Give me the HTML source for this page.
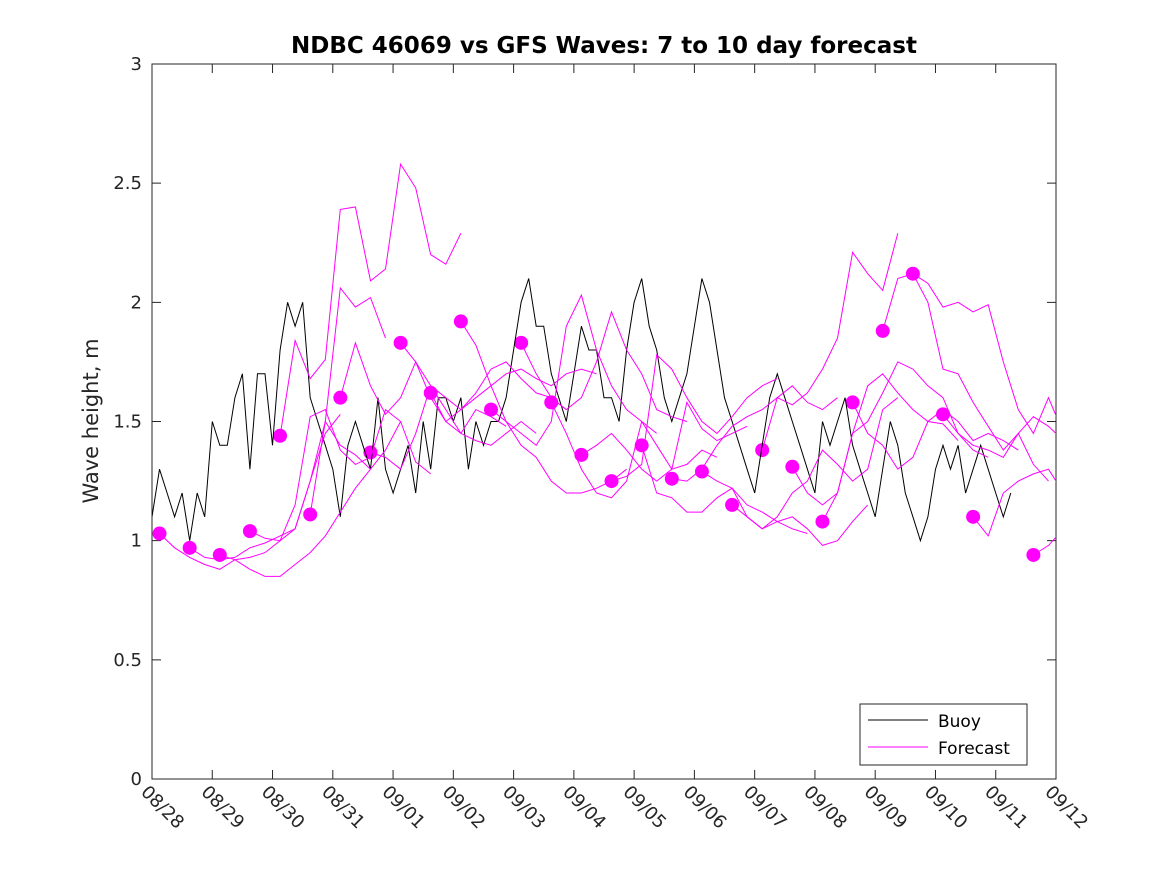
<!DOCTYPE html>
<html><head><meta charset="utf-8"><style>
body{margin:0;background:#fff;}
svg{display:block;font-family:"DejaVu Sans","Liberation Sans",sans-serif;}
</style></head><body>
<svg id="chart" width="1167" height="875" viewBox="0 0 1167 875" xmlns="http://www.w3.org/2000/svg">
<defs><clipPath id="clip"><rect x="152" y="64" width="904" height="715"/></clipPath></defs>
<rect width="1167" height="875" fill="#fff"/>
<text x="604" y="53" text-anchor="middle" font-size="23" font-weight="bold" fill="#000">NDBC 46069 vs GFS Waves: 7 to 10 day forecast</text>
<text transform="translate(98,421) rotate(-90)" text-anchor="middle" font-size="21" fill="#262626">Wave height, m</text>
<g id="plot"></g>
<g id="data" clip-path="url(#clip)"></g>
</svg>
<script>
const xTickLabels=["08/28","08/29","08/30","08/31","09/01","09/02","09/03","09/04","09/05","09/06","09/07","09/08","09/09","09/10","09/11","09/12"];
const yTicks=[0,0.5,1,1.5,2,2.5,3];
const buoyStep=0.125;
const buoyValues=[1.1,1.3,1.2,1.1,1.2,1.0,1.2,1.1,
1.5,1.4,1.4,1.6,1.7,1.3,1.7,1.7,
1.4,1.8,2.0,1.9,2.0,1.6,1.5,1.4,
1.3,1.1,1.4,1.5,1.4,1.3,1.6,1.3,
1.2,1.3,1.4,1.2,1.5,1.3,1.6,1.6,
1.5,1.6,1.3,1.5,1.4,1.5,1.5,1.6,
1.8,2.0,2.1,1.9,1.9,1.7,1.6,1.5,
1.7,1.9,1.8,1.8,1.6,1.6,1.5,1.8,
2.0,2.1,1.9,1.8,1.6,1.5,1.6,1.7,
1.9,2.1,2.0,1.8,1.6,1.5,1.4,1.3,
1.2,1.4,1.6,1.7,1.6,1.5,1.4,1.3,
1.2,1.5,1.4,1.5,1.6,1.4,1.3,1.2,
1.1,1.3,1.5,1.4,1.2,1.1,1.0,1.1,
1.3,1.4,1.3,1.4,1.2,1.3,1.4,1.3,
1.2,1.1,1.2];
const forecastStep=0.25;
const forecastStarts=[0.125,0.625,1.125,1.625,2.125,2.625,3.125,3.625,4.125,4.625,5.125,5.625,6.125,6.625,7.125,7.625,8.125,8.625,9.125,9.625,10.125,10.625,11.125,11.625,12.125,12.625,13.125,13.625,14.625];
const forecastValues=[
[1.03,0.97,0.93,0.90,0.88,0.92,0.93,0.95,1.0,1.05,1.25,1.45,1.53],
[0.97,0.93,0.92,0.93,0.97,0.99,1.02,1.05,1.25,1.50,1.40,1.36,1.3],
[0.94,0.92,0.88,0.85,0.85,0.90,0.95,1.02,1.12,1.22,1.30,1.38,1.50],
[1.04,1.01,1.00,1.15,1.52,1.55,1.38,1.32,1.35,1.55,1.50,1.33,1.28],
[1.44,1.84,1.68,1.76,2.39,2.40,2.09,2.14,2.58,2.48,2.20,2.16,2.29],
[1.11,1.50,2.06,1.98,2.02,1.85],
[1.60,1.83,1.65,1.53,1.60,1.75,1.60,1.50,1.45,1.55,1.52,1.48],
[1.37,1.35,1.30,1.45,1.65,1.55,1.45,1.42,1.40,1.45,1.50,1.45],
[1.83,1.75,1.65,1.60,1.55,1.62,1.72,1.75,1.68,1.62,1.60,1.55],
[1.62,1.50,1.55,1.60,1.65,1.70,1.72,1.68,1.65,1.70,1.72,1.70],
[1.92,1.82,1.65,1.50,1.40,1.35,1.25,1.20,1.20,1.22,1.25,1.30],
[1.55,1.50,1.45,1.40,1.50,1.90,2.03,1.80,1.65,1.55,1.50,1.45],
[1.83,1.70,1.60,1.55,1.60,1.75,1.96,1.80,1.70,1.55,1.52,1.50],
[1.58,1.45,1.30,1.20,1.18,1.25,1.50,1.40,1.30,1.32,1.38,1.35],
[1.36,1.40,1.45,1.38,1.30,1.25,1.30,1.58,1.47,1.42,1.45,1.48],
[1.25,1.27,1.32,1.78,1.72,1.60,1.50,1.45,1.52,1.60,1.65,1.68],
[1.40,1.20,1.18,1.12,1.12,1.18,1.22,1.15,1.12,1.08,1.05,1.03],
[1.26,1.25,1.30,1.40,1.48,1.52,1.55,1.60,1.65,1.58,1.55,1.60],
[1.29,1.25,1.22,1.10,1.05,1.08,1.10,1.05,0.98,1.00,1.08,1.15],
[1.15,1.10,1.05,1.10,1.20,1.25,1.38,1.32,1.25,1.30,1.55,1.60],
[1.38,1.60,1.57,1.62,1.72,1.85,2.21,2.12,2.05,2.29],
[1.31,1.20,1.15,1.20,1.45,1.65,1.70,1.62,1.55,1.50,1.49,1.42],
[1.08,1.20,1.45,1.50,1.62,1.75,1.72,1.65,1.60,1.45,1.38,1.35],
[1.58,1.45,1.40,1.30,1.35,1.50,1.55,1.50,1.42,1.45,1.42,1.38],
[1.88,2.10,2.12,2.00,1.72,1.70,1.58,1.48,1.38,1.45,1.32,1.25],
[2.12,2.08,1.98,2.00,1.96,1.99,1.75,1.55,1.45,1.60,1.45,1.30],
[1.53,1.45,1.40,1.38,1.35,1.45,1.52,1.48,1.42,1.40,1.30,1.25],
[1.10,1.02,1.20,1.25,1.28,1.30,1.20,1.12,1.12,1.20],
[0.94,0.98,1.05]
];
const X0=152,X1=1056,Y0=779,Y1=64;
const xs=d=>X0+(d/15)*(X1-X0);
const ys=v=>Y0-(v/3)*(Y0-Y1);
const NS="http://www.w3.org/2000/svg";
const g=document.getElementById('plot');
const gd=document.getElementById('data');
function mk(tag,attrs,parent){const e=document.createElementNS(NS,tag);for(const k in attrs)e.setAttribute(k,attrs[k]);(parent||g).appendChild(e);return e;}
let box=mk('rect',{x:X0,y:Y1,width:X1-X0,height:Y0-Y1,fill:'none',stroke:'#262626','stroke-width':1});


yTicks.forEach(v=>{
  const y=ys(v);
  let t=mk('path',{d:`M${X0} ${y}h9M${X1} ${y}h-9`,stroke:'#262626'});
  
  
  let l=mk('text',{x:X0-10,y:y+6,'text-anchor':'end','font-size':18,fill:'#262626'});
  l.textContent=String(v);
  
  
});
xTickLabels.forEach((s,i)=>{
  const x=xs(i);
  let t=mk('path',{d:`M${x} ${Y0}v-9M${x} ${Y1}v9`,stroke:'#262626'});
  
  
  let l=mk('text',{transform:`translate(${x-12},${Y0+14}) rotate(45)`,'font-size':18,fill:'#262626'});
  l.textContent=s;
  
  
});
let bp=buoyValues.map((v,i)=>`${xs(i*buoyStep).toFixed(1)},${ys(v).toFixed(1)}`).join(' ');
let buoy=mk('polyline',{points:bp,fill:'none',stroke:'#000','stroke-width':1},gd);


forecastValues.forEach((arr,k)=>{
  const t0=forecastStarts[k];
  let p=arr.map((v,i)=>`${xs(t0+i*forecastStep).toFixed(1)},${ys(v).toFixed(1)}`).join(' ');
  let pl=mk('polyline',{points:p,fill:'none',stroke:'#ff00ff','stroke-width':1},gd);
  
  
});
forecastValues.forEach((arr,k)=>{
  let c=mk('circle',{cx:xs(forecastStarts[k]),cy:ys(arr[0]),r:7,fill:'#ff00ff'});
  
  
});
let lg=mk('rect',{x:860,y:704,width:167,height:61,fill:'#fff',stroke:'#262626'});


let l1=mk('line',{x1:868,y1:720,x2:928,y2:720,stroke:'#000'});


let t1=mk('text',{x:938,y:727,'font-size':17,fill:'#000'});t1.textContent='Buoy';


let l2=mk('line',{x1:868,y1:747,x2:928,y2:747,stroke:'#ff00ff'});


let t2=mk('text',{x:938,y:754,'font-size':17,fill:'#000'});t2.textContent='Forecast';


</script>
</body></html>
